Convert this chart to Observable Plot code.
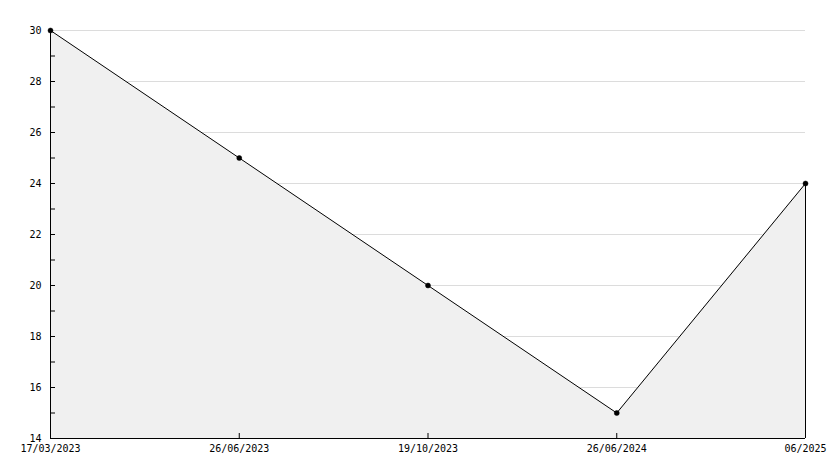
<!DOCTYPE html>
<html>
<head>
<meta charset="utf-8">
<script src="https://cdn.jsdelivr.net/npm/d3@7"></script>
<script src="https://cdn.jsdelivr.net/npm/@observablehq/plot@0.6"></script>
<style>
  html, body { margin: 0; padding: 0; background: #fff; }
</style>
</head>
<body>
<div id="chart"></div>
<script>
const dates = ["17/03/2023", "26/06/2023", "19/10/2023", "26/06/2024", "06/2025"];
const values = [30, 25, 20, 15, 24];
const yLabelTicks = [14, 16, 18, 20, 22, 24, 26, 28, 30];
const yMinorTicks = [15, 16, 17, 18, 19, 20, 21, 22, 23, 24, 25, 26, 27, 28, 29];
const yDomain = [14, 30];

const data = dates.map((d, i) => ({date: d, value: values[i]}));

const W = 834, H = 468;
const mL = 50, mR = 29, mT = 30, mB = 30;
const innerW = W - mL - mR, innerH = H - mT - mB;

const chart = Plot.plot({
  width: W,
  height: H,
  marginLeft: mL,
  marginRight: mR,
  marginTop: mT,
  marginBottom: mB,
  style: {fontFamily: "DejaVu Sans Mono", fontSize: "10px", color: "#000", background: "#fff"},
  x: {type: "point", domain: dates, padding: 0, round: false, label: null},
  y: {domain: yDomain, label: null},
  marks: [
    Plot.ruleY(yLabelTicks.filter(v => v > yDomain[0]), {y: d => d, stroke: "#dcdcdc", strokeWidth: 1}),
    Plot.areaY(data, {x: "date", y1: yDomain[0], y2: "value", fill: "#f0f0f0", fillOpacity: 1, curve: "linear"}),
    Plot.lineY(data, {x: "date", y: "value", stroke: "#000", strokeWidth: 1}),
    Plot.ruleX([data[data.length - 1]], {x: "date", y1: yDomain[0], y2: "value", stroke: "#000", strokeWidth: 1}),
    Plot.tickY(yMinorTicks, {y: d => d, insetRight: innerW - 5, stroke: "#000", strokeWidth: 1}),
    Plot.tickX(dates, {x: d => d, insetTop: innerH - 5, stroke: "#000", strokeWidth: 1}),
    Plot.ruleX([dates[0]], {x: d => d, stroke: "#000", strokeWidth: 1}),
    Plot.ruleY([yDomain[0]], {y: d => d, stroke: "#000", strokeWidth: 1}),
    Plot.dot(data, {x: "date", y: "value", r: 2.5, fill: "#000", stroke: "#000", strokeWidth: 0.5}),
    Plot.axisY({ticks: yLabelTicks, tickSize: 0, tickPadding: 9, tickFormat: d => String(d), fontSize: 10, label: null}),
    Plot.axisX({tickSize: 0, tickPadding: 6, fontSize: 10, label: null})
  ]
});
document.getElementById("chart").appendChild(chart);
</script>
</body>
</html>
